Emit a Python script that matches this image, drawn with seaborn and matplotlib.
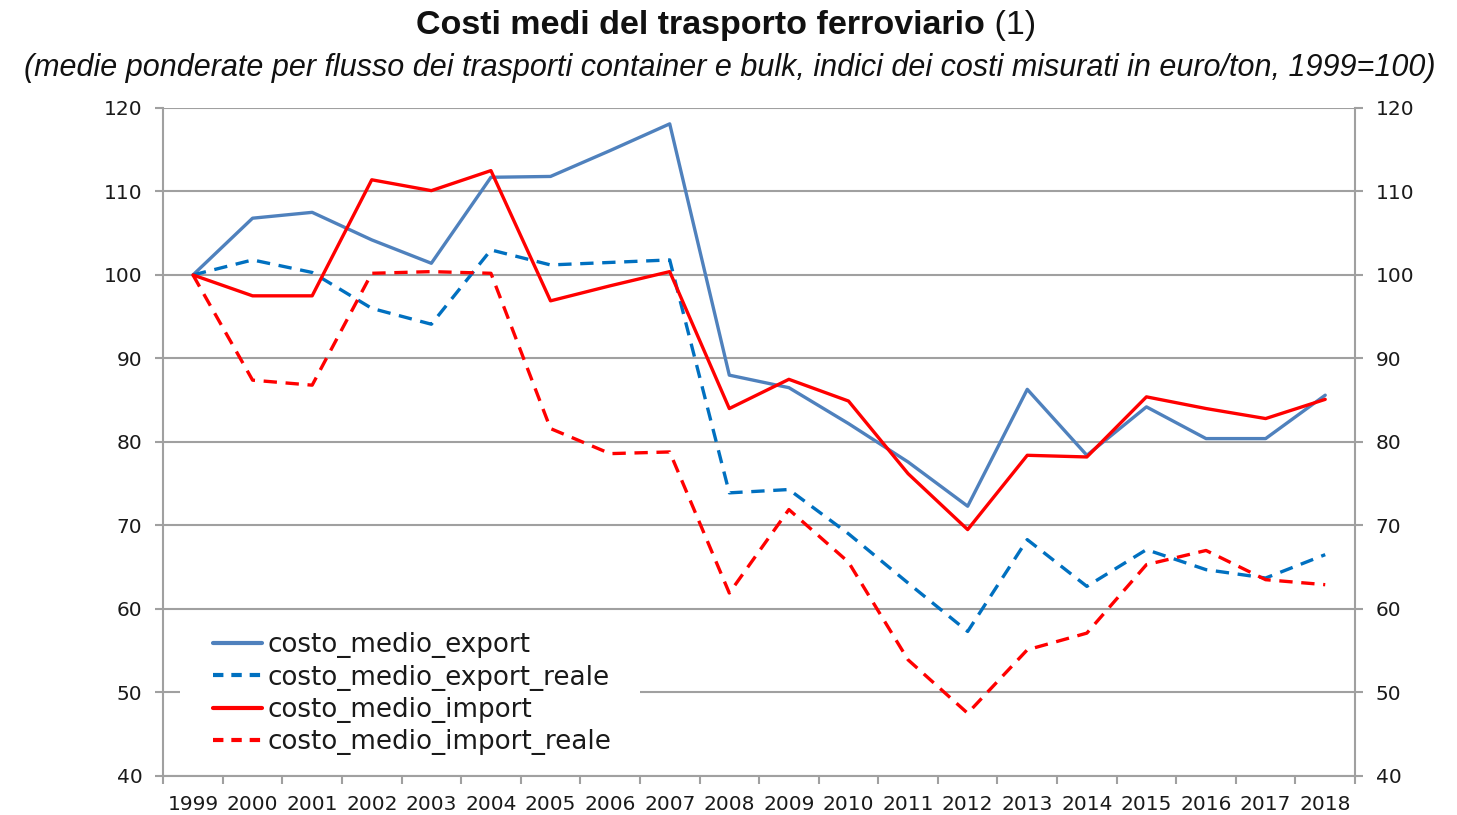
"""Costi medi del trasporto ferroviario."""
import pandas as pd
import seaborn as sns
import matplotlib.pyplot as plt
from matplotlib.lines import Line2D
from matplotlib.patches import Rectangle

years = [str(y) for y in range(1999, 2019)]
costo_medio_export = [100, 106.8, 107.5, 104.2, 101.4, 111.7, 111.8, 114.9, 118.1, 88.0,
                      86.5, 82.2, 77.6, 72.3, 86.3, 78.4, 84.2, 80.4, 80.4, 85.6]
costo_medio_export_reale = [100, 101.8, 100.3, 96.0, 94.1, 103.0, 101.2, 101.5, 101.8, 73.9,
                            74.3, 69.0, 63.1, 57.3, 68.3, 62.7, 67.1, 64.7, 63.7, 66.5]
costo_medio_import = [100, 97.5, 97.5, 111.4, 110.1, 112.5, 96.9, 98.7, 100.4, 84.0,
                      87.5, 84.9, 76.2, 69.5, 78.4, 78.2, 85.4, 84.0, 82.8, 85.1]
costo_medio_import_reale = [100, 87.4, 86.8, 100.2, 100.4, 100.2, 81.6, 78.6, 78.8, 61.9,
                            71.9, 65.6, 53.9, 47.5, 55.1, 57.1, 65.3, 67.0, 63.5, 62.9]

series = {
    "costo_medio_export": (costo_medio_export, "#4F81BD", "-"),
    "costo_medio_export_reale": (costo_medio_export_reale, "#0070C0", "--"),
    "costo_medio_import": (costo_medio_import, "#FF0000", "-"),
    "costo_medio_import_reale": (costo_medio_import_reale, "#FF0000", "--"),
}

sns.set_theme(style="white")
plt.rcParams["font.family"] = ["DejaVu Sans"]

fig = plt.figure(figsize=(14.57, 8.15), dpi=100)
ax = fig.add_axes([0.112, 0.048, 0.818, 0.8195])

handles = []
for name, (vals, color, ls) in series.items():
    df = pd.DataFrame({"anno": range(len(years)), "valore": vals})
    sns.lineplot(data=df, x="anno", y="valore", ax=ax, color=color, linewidth=2.4,
                 linestyle=ls, zorder=3)
    line = ax.lines[-1]
    if ls == "--":
        line.set_dashes((4, 2.6))
    h = Line2D([], [], color=color, linewidth=3.0, linestyle=ls)
    if ls == "--":
        h.set_dashes((2.5, 1.9))
    handles.append(h)

ax.set_xlim(-0.5, len(years) - 0.5)
ax.set_ylim(40, 120)
ax.set_yticks(range(40, 121, 10))
ax.set_xticks(range(len(years)))
ax.set_xticklabels(years)
ax.set_xticks([i - 0.5 for i in range(len(years) + 1)], minor=True)
ax.set_xlabel("")
ax.set_ylabel("")

ax.grid(axis="y", color="#A0A0A0", linewidth=1.5, zorder=0)
ax.grid(axis="x", visible=False)
for side in ["left", "right", "bottom"]:
    ax.spines[side].set_color("#A0A0A0")
    ax.spines[side].set_linewidth(1.5)
ax.spines["top"].set_visible(False)

ax.tick_params(axis="y", which="major", left=True, right=True, labelleft=True,
               labelright=True, length=6, width=1.5, color="#A0A0A0",
               labelsize=14.5, pad=9, labelcolor="#1a1a1a")
ax.tick_params(axis="x", which="major", length=0, labelsize=14.5, pad=14,
               labelcolor="#1a1a1a")
ax.tick_params(axis="x", which="minor", bottom=True, length=6, width=1.5,
               color="#A0A0A0")

# white legend area that hides the 50 gridline
ax.add_patch(Rectangle((0.014, 0.02), 0.386, 0.2, transform=ax.transAxes,
                       facecolor="white", edgecolor="none", zorder=1))

leg = ax.legend(handles, list(series.keys()), loc="upper left",
                bbox_to_anchor=(0.042, 0.215), frameon=False, fontsize=18.8,
                handlelength=1.87, handletextpad=0.2, labelspacing=0.24,
                borderpad=0, borderaxespad=0)
for t in leg.get_texts():
    t.set_color("#1a1a1a")

fig.text(0.676, 0.969, "Costi medi del trasporto ferroviario", ha="right", va="center",
         fontsize=24.5, fontweight="bold", family="Liberation Sans", color="#111111")
fig.text(0.676, 0.969, " (1)", ha="left", va="center", fontsize=24.5,
         family="Liberation Sans", color="#111111")
fig.text(0.501, 0.917, "(medie ponderate per flusso dei trasporti container e bulk, "
         "indici dei costi misurati in euro/ton, 1999=100)", ha="center", va="center",
         fontsize=22, style="italic", family="Liberation Sans", color="#111111")

fig.savefig("out.png", dpi=100)
